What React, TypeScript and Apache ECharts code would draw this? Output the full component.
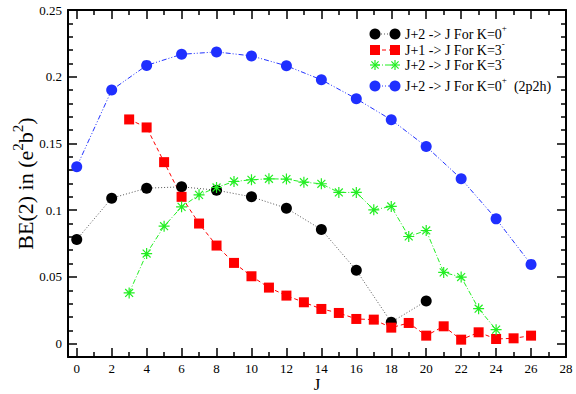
import React, { useEffect, useRef } from "react";
import * as echarts from "echarts";

// ---- data ----
const blackJ = [0, 2, 4, 6, 8, 10, 12, 14, 16, 18, 20];
const blackBE = [0.078, 0.109, 0.1165, 0.1175, 0.115, 0.11, 0.1015, 0.0855, 0.055, 0.016, 0.032];

const redJ = [3, 4, 5, 6, 7, 8, 9, 10, 11, 12, 13, 14, 15, 16, 17, 18, 19, 20, 21, 22, 23, 24, 25, 26];
const redBE = [0.168, 0.162, 0.136, 0.11, 0.09, 0.0735, 0.0605, 0.0505, 0.042, 0.036, 0.031, 0.026, 0.023, 0.0185, 0.018, 0.012, 0.0155, 0.006, 0.013, 0.003, 0.0085, 0.0035, 0.004, 0.006];

const greenJ = [3, 4, 5, 6, 7, 8, 9, 10, 11, 12, 13, 14, 15, 16, 17, 18, 19, 20, 21, 22, 23, 24];
const greenBE = [0.038, 0.0675, 0.088, 0.1025, 0.1115, 0.117, 0.1215, 0.1228, 0.1235, 0.1233, 0.121, 0.1198, 0.1133, 0.1133, 0.1003, 0.1028, 0.0803, 0.0848, 0.0534, 0.0499, 0.0262, 0.0105];

const blueJ = [0, 2, 4, 6, 8, 10, 12, 14, 16, 18, 20, 22, 24, 26];
const blueBE = [0.1325, 0.19, 0.2085, 0.2168, 0.2186, 0.2156, 0.2082, 0.1977, 0.1835, 0.1677, 0.1477, 0.1235, 0.0935, 0.0594];

const xMajorTicks = [0, 2, 4, 6, 8, 10, 12, 14, 16, 18, 20, 22, 24, 26, 28];
const xMinorTicks = [1, 3, 5, 7, 9, 11, 13, 15, 17, 19, 21, 23, 25, 27];
const yMajorTicks = [0, 0.05, 0.1, 0.15, 0.2, 0.25];
const yMinorTicks = [0.01, 0.02, 0.03, 0.04, 0.06, 0.07, 0.08, 0.09, 0.11, 0.12, 0.13, 0.14, 0.16, 0.17, 0.18, 0.19, 0.21, 0.22, 0.23, 0.24];

const legendLabels = [
  "J+2 -> J For K=0{sup|+}",
  "J+1 -> J For K=3{sup|-}",
  "J+2 -> J For K=3{sup|-}",
  "J+2 -> J For K=0{sup|+}  (2p2h)",
];

const SERIF = "Liberation Serif, serif";
const STAR = "path://M0,-5L0,5M-5,0L5,0M-3.6,-3.6L3.6,3.6M-3.6,3.6L3.6,-3.6";

const X_MIN = -0.5, X_MAX = 28, Y_MIN = -0.01, Y_MAX = 0.25;

function xAxisDef(position: string, ticks: number[], len: number, labels: boolean, line: boolean, extra: any = {}) {
  return {
    type: "value", min: X_MIN, max: X_MAX, position,
    axisLine: { show: line, onZero: false, lineStyle: { color: "#000", width: 2 } },
    axisTick: { show: true, inside: true, length: len, customValues: ticks, lineStyle: { color: "#000", width: 1.5 } },
    axisLabel: labels
      ? { show: true, customValues: ticks, color: "#000", fontFamily: SERIF, fontSize: 13, margin: 5 }
      : { show: false },
    splitLine: { show: false },
    ...extra,
  };
}
function yAxisDef(position: string, ticks: number[], len: number, labels: boolean, line: boolean, extra: any = {}) {
  return {
    type: "value", min: Y_MIN, max: Y_MAX, position,
    axisLine: { show: line, onZero: false, lineStyle: { color: "#000", width: 2 } },
    axisTick: { show: true, inside: true, length: len, customValues: ticks, lineStyle: { color: "#000", width: 1.5 } },
    axisLabel: labels
      ? { show: true, customValues: ticks, color: "#000", fontFamily: SERIF, fontSize: 13, margin: 6 }
      : { show: false },
    splitLine: { show: false },
    ...extra,
  };
}

function zip(xs: number[], ys: number[]) {
  return xs.map((x, i) => [x, ys[i]]);
}

function legendGraphic() {
  const rows = [
    { y: 34, kind: "black" },
    { y: 50, kind: "red" },
    { y: 65, kind: "green" },
    { y: 86, kind: "blue" },
  ];
  const x1 = 375, x2 = 395, tx = 405;
  const els: any[] = [];
  rows.forEach((r, i) => {
    let stroke = "#555", dash: number[] = [1, 2];
    if (r.kind === "red") { stroke = "#ff0000"; dash = [4, 3]; }
    if (r.kind === "green") { stroke = "#22ee22"; dash = [5, 2, 1, 2]; }
    if (r.kind === "blue") { stroke = "#2233ff"; dash = [5, 2, 1, 2, 1, 2]; }
    els.push({ type: "line", shape: { x1, y1: r.y, x2, y2: r.y }, style: { stroke, lineWidth: 1, lineDash: dash } });
    [x1, x2].forEach((cx) => {
      if (r.kind === "black") els.push({ type: "circle", shape: { cx, cy: r.y, r: 5.5 }, style: { fill: "#000" } });
      if (r.kind === "blue") els.push({ type: "circle", shape: { cx, cy: r.y, r: 5.5 }, style: { fill: "#1f2fff" } });
      if (r.kind === "red") els.push({ type: "rect", shape: { x: cx - 5, y: r.y - 5, width: 10, height: 10 }, style: { fill: "#ff0000" } });
      if (r.kind === "green") {
        const segs = [[0, -5, 0, 5], [-5, 0, 5, 0], [-3.6, -3.6, 3.6, 3.6], [-3.6, 3.6, 3.6, -3.6]];
        segs.forEach((s) =>
          els.push({ type: "line", shape: { x1: cx + s[0], y1: r.y + s[1], x2: cx + s[2], y2: r.y + s[3] }, style: { stroke: "#22ee22", lineWidth: 1.2 } })
        );
      }
    });
    els.push({
      type: "text", x: tx, y: r.y,
      style: {
        text: legendLabels[i], fill: "#000", fontFamily: SERIF, fontSize: 14, verticalAlign: "middle", align: "left",
        rich: { sup: { fontFamily: SERIF, fontSize: 9, padding: [0, 0, 12, 0] } },
      },
    });
  });
  return els;
}

export default function App() {
  const ref = useRef<HTMLDivElement>(null);
  useEffect(() => {
    if (!ref.current) return;
    const chart = echarts.init(ref.current, null, { renderer: "svg" });
    const option: any = {
      animation: false,
      backgroundColor: "#fff",
      grid: { left: 68, right: 10, top: 10, bottom: 37, containLabel: false, outerBoundsMode: "none" },
      xAxis: [
        xAxisDef("bottom", xMajorTicks, 9, true, true, {
          name: "J", nameLocation: "middle", nameGap: 19, nameMoveOverlap: false,
          nameTextStyle: { color: "#000", fontFamily: SERIF, fontSize: 17 },
        }),
        xAxisDef("bottom", xMinorTicks, 5, false, false),
        xAxisDef("top", xMajorTicks, 9, false, true),
        xAxisDef("top", xMinorTicks, 5, false, false),
      ],
      yAxis: [
        yAxisDef("left", yMajorTicks, 9, true, true, {
          name: "BE(2) in (e{sup|2}b{sup|2})", nameLocation: "middle", nameGap: 27, nameRotate: 90, nameMoveOverlap: false,
          nameTextStyle: {
            color: "#000", fontFamily: SERIF, fontSize: 22,
            rich: { sup: { fontFamily: SERIF, fontSize: 15, padding: [0, 0, 16, 0] } },
          },
        }),
        yAxisDef("left", yMinorTicks, 5, false, false),
        yAxisDef("right", yMajorTicks, 9, false, true),
        yAxisDef("right", yMinorTicks, 5, false, false),
      ],
      series: [
        {
          type: "line", xAxisIndex: 0, yAxisIndex: 0, data: zip(blackJ, blackBE),
          symbol: "circle", symbolSize: 11, silent: true,
          itemStyle: { color: "#000" },
          lineStyle: { color: "#555", width: 1, type: [1, 2] },
        },
        {
          type: "line", xAxisIndex: 0, yAxisIndex: 0, data: zip(redJ, redBE),
          symbol: "rect", symbolSize: 10, silent: true,
          itemStyle: { color: "#ff0000" },
          lineStyle: { color: "#ff0000", width: 1, type: [4, 3] },
        },
        {
          type: "line", xAxisIndex: 0, yAxisIndex: 0, data: zip(greenJ, greenBE),
          symbol: STAR, symbolSize: 11, silent: true,
          itemStyle: { color: "#22ee22", borderColor: "#22ee22", borderWidth: 1.2 },
          lineStyle: { color: "#22ee22", width: 1, type: [5, 2, 1, 2] },
        },
        {
          type: "line", xAxisIndex: 0, yAxisIndex: 0, data: zip(blueJ, blueBE),
          symbol: "circle", symbolSize: 11, silent: true,
          itemStyle: { color: "#1f2fff" },
          lineStyle: { color: "#2233ff", width: 1, type: [5, 2, 1, 2, 1, 2] },
        },
      ],
      graphic: legendGraphic(),
    };
    chart.setOption(option);
    return () => chart.dispose();
  }, []);
  return <div ref={ref} style={{ position: "fixed", left: 0, top: 0, width: 576, height: 394 }} />;
}
